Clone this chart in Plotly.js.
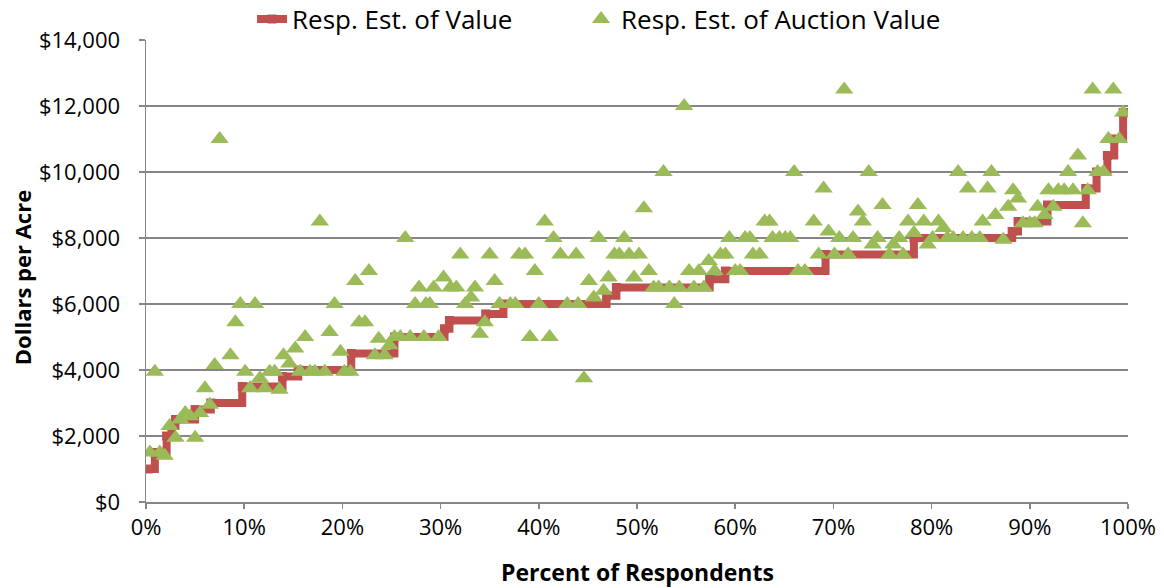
<!DOCTYPE html>
<html>
<head>
<meta charset="utf-8">
<script src="https://cdn.plot.ly/plotly-3.0.1.min.js"></script>
<style>
  body { margin: 0; background: #fff; }
  #chart { width: 1164px; height: 588px; }
</style>
</head>
<body>
<div id="chart"></div>
<script>
// respondents' own estimate, sorted (step breakpoints: percent of respondents, $/acre)
var valuePct = [0.2, 0.9, 2.1, 2.6, 3.0, 5.0, 6.6, 9.8, 13.9, 15.5, 20.9, 25.3, 30.4, 30.9, 34.6, 36.4,
  46.9, 47.9, 57.4, 59.0, 69.2, 78.2, 88.2, 88.8, 91.8, 95.7, 96.8, 97.9, 98.6, 99.5, 99.9];
var valueEst = [1000, 1500, 2000, 2300, 2500, 2800, 3000, 3500, 3800, 4000, 4500, 5000, 5250, 5500, 5700, 6000,
  6250, 6500, 6750, 7000, 7500, 8000, 8200, 8500, 9000, 9500, 10000, 10500, 11000, 11800, 11800];

// respondents' estimate of auction value
var auctionPct = [0.4, 0.9, 1.4, 1.9, 2.4, 3.0, 3.5, 4.0, 4.5, 5.0, 5.5, 6.0, 6.5, 7.0, 7.5, 8.6, 9.1, 9.6,
  10.1, 10.6, 11.1, 11.6, 12.1, 12.6, 13.1, 13.6, 14.0, 14.6, 15.2, 15.7, 16.2, 16.7, 17.2, 17.7, 18.2, 18.7,
  19.2, 19.8, 20.2, 20.8, 21.3, 21.7, 22.3, 22.7, 23.3, 23.7, 24.3, 24.8, 25.3, 25.9, 26.4, 26.9, 27.4, 27.8,
  28.3, 28.5, 28.9, 29.3, 29.8, 30.3, 31.0, 31.6, 32.0, 32.5, 33.1, 33.5, 34.0, 34.5, 35.0, 35.5, 36.0, 37.1,
  37.6, 38.0, 38.6, 39.1, 39.6, 40.0, 40.6, 41.1, 41.5, 42.2, 42.9, 43.8, 44.0, 44.6, 45.1, 45.6, 46.1, 46.6,
  47.1, 47.7, 48.2, 48.7, 49.2, 49.7, 50.2, 50.7, 51.2, 51.7, 52.2, 52.7, 53.3, 53.8, 54.3, 54.8, 55.3, 55.8,
  56.3, 56.8, 57.3, 57.9, 58.5, 59.0, 59.4, 60.0, 60.5, 61.0, 61.5, 61.8, 62.5, 63.0, 63.5, 63.8, 64.5, 65.1,
  65.6, 66.0, 66.4, 67.1, 68.0, 68.5, 69.0, 69.5, 70.1, 70.6, 71.1, 71.5, 72.0, 72.5, 73.0, 73.6, 74.0, 74.5,
  75.0, 75.7, 76.1, 76.7, 77.1, 77.6, 78.2, 78.6, 79.2, 79.6, 80.1, 80.7, 81.2, 81.6, 82.2, 82.7, 83.2, 83.7,
  84.1, 84.9, 85.2, 85.7, 86.1, 86.5, 87.3, 87.8, 88.3, 88.8, 89.3, 90.0, 90.5, 90.8, 91.5, 91.9, 92.4, 92.9,
  93.5, 93.9, 94.4, 94.9, 95.4, 95.9, 96.4, 96.9, 97.5, 98.0, 98.5, 99.1, 99.5];
var auctionEst = [1500, 3950, 1500, 1400, 2300, 1950, 2500, 2700, 2600, 1950, 2700, 3450, 2950, 4150, 11000, 4450, 5450, 6000,
  3950, 3450, 6000, 3750, 3450, 3950, 3950, 3400, 4450, 4200, 4650, 3950, 5000, 3950, 3950, 8500, 3950, 5150,
  6000, 4550, 3950, 3950, 6700, 5450, 5450, 7000, 4450, 4950, 4450, 4750, 5000, 5000, 8000, 5000, 6000, 6500,
  5000, 6000, 6000, 6500, 5000, 6800, 6500, 6500, 7500, 6000, 6200, 6500, 5100, 5450, 7500, 6700, 6000, 6000,
  6000, 7500, 7500, 5000, 7000, 6000, 8500, 5000, 8000, 7500, 6000, 7500, 6000, 3750, 6700, 6200, 8000, 6400,
  6800, 7500, 7500, 8000, 7500, 6800, 7500, 8900, 7000, 6500, 6500, 10000, 6500, 6000, 6500, 12000, 7000, 6500,
  7000, 6500, 7300, 7000, 7500, 7500, 8000, 7000, 7000, 8000, 8000, 7500, 7500, 8500, 8500, 8000, 8000, 8000,
  8000, 10000, 7000, 7000, 8500, 7500, 9500, 8200, 7500, 8000, 12500, 7500, 8000, 8800, 8500, 10000, 7800, 8000,
  9000, 7500, 7800, 8000, 7500, 8500, 8150, 9000, 8500, 7800, 8000, 8500, 8300, 8000, 8000, 10000, 8000, 9500,
  8000, 8000, 8500, 9500, 10000, 8700, 7950, 8950, 9450, 9200, 8450, 8450, 8450, 8950, 8700, 9450, 8950, 9450,
  9450, 10000, 9450, 10500, 8450, 9450, 12500, 10000, 10000, 11000, 12500, 11000, 11800];

var seriesNames = ['Resp. Est. of Value', 'Resp. Est. of Auction Value'];

var font = 'Open Sans, Liberation Sans, sans-serif';

var valueTrace = {
  x: valuePct,
  y: valueEst,
  name: seriesNames[0],
  legend: 'legend',
  type: 'scatter',
  mode: 'lines+markers',
  line: { color: '#C0504D', width: 8, shape: 'hv' },
  marker: { symbol: 'square', size: 9, color: '#C0504D' },
  hoverinfo: 'x+y+name'
};

var auctionTrace = {
  x: auctionPct,
  y: auctionEst,
  name: seriesNames[1],
  legend: 'legend2',
  type: 'scatter',
  mode: 'markers',
  marker: { symbol: 'triangle-up', size: 16, color: '#9BBB59' },
  hoverinfo: 'x+y+name'
};

var legendFont = { family: font, size: 26, color: '#000000' };

var layout = {
  width: 1164,
  height: 588,
  margin: { l: 146, r: 36, t: 40, b: 86, autoexpand: false },
  paper_bgcolor: '#ffffff',
  plot_bgcolor: '#ffffff',
  font: { family: font, size: 22, color: '#000000' },
  showlegend: true,
  legend: {
    orientation: 'h',
    x: 0.108,
    xanchor: 'left',
    y: 1.045,
    yanchor: 'middle',
    font: legendFont,
    bgcolor: 'rgba(0,0,0,0)'
  },
  legend2: {
    orientation: 'h',
    x: 0.443,
    xanchor: 'left',
    y: 1.045,
    yanchor: 'middle',
    font: legendFont,
    bgcolor: 'rgba(0,0,0,0)'
  },
  xaxis: {
    range: [0, 100],
    dtick: 10,
    ticksuffix: '%',
    showgrid: false,
    zeroline: false,
    showline: true,
    linecolor: '#868686',
    linewidth: 1.5,
    ticks: 'outside',
    ticklen: 5,
    tickwidth: 1.5,
    tickcolor: '#868686',
    tickfont: { family: font, size: 22, color: '#000000' }
  },
  yaxis: {
    range: [0, 14000],
    dtick: 2000,
    tickprefix: '$',
    tickformat: ',d',
    showgrid: true,
    gridcolor: '#868686',
    gridwidth: 1.5,
    zeroline: false,
    showline: true,
    linecolor: '#868686',
    linewidth: 1.5,
    ticks: 'outside',
    ticklen: 6,
    tickwidth: 1.5,
    tickcolor: '#868686',
    ticklabelstandoff: 14,
    tickfont: { family: font, size: 22, color: '#000000' }
  },
  annotations: [
    {
      text: '<b>Percent of Respondents</b>',
      xref: 'paper', yref: 'paper',
      x: 0.5, y: -0.152,
      xanchor: 'center', yanchor: 'middle',
      showarrow: false,
      font: { family: font, size: 23, color: '#000000' }
    },
    {
      text: '<b>Dollars per Acre</b>',
      xref: 'paper', yref: 'paper',
      x: -0.126, y: 0.485,
      xanchor: 'center', yanchor: 'middle',
      textangle: -90,
      showarrow: false,
      font: { family: font, size: 22, color: '#000000' }
    }
  ]
};

Plotly.newPlot('chart', [valueTrace, auctionTrace], layout, { displayModeBar: false, staticPlot: true });
</script>
</body>
</html>
